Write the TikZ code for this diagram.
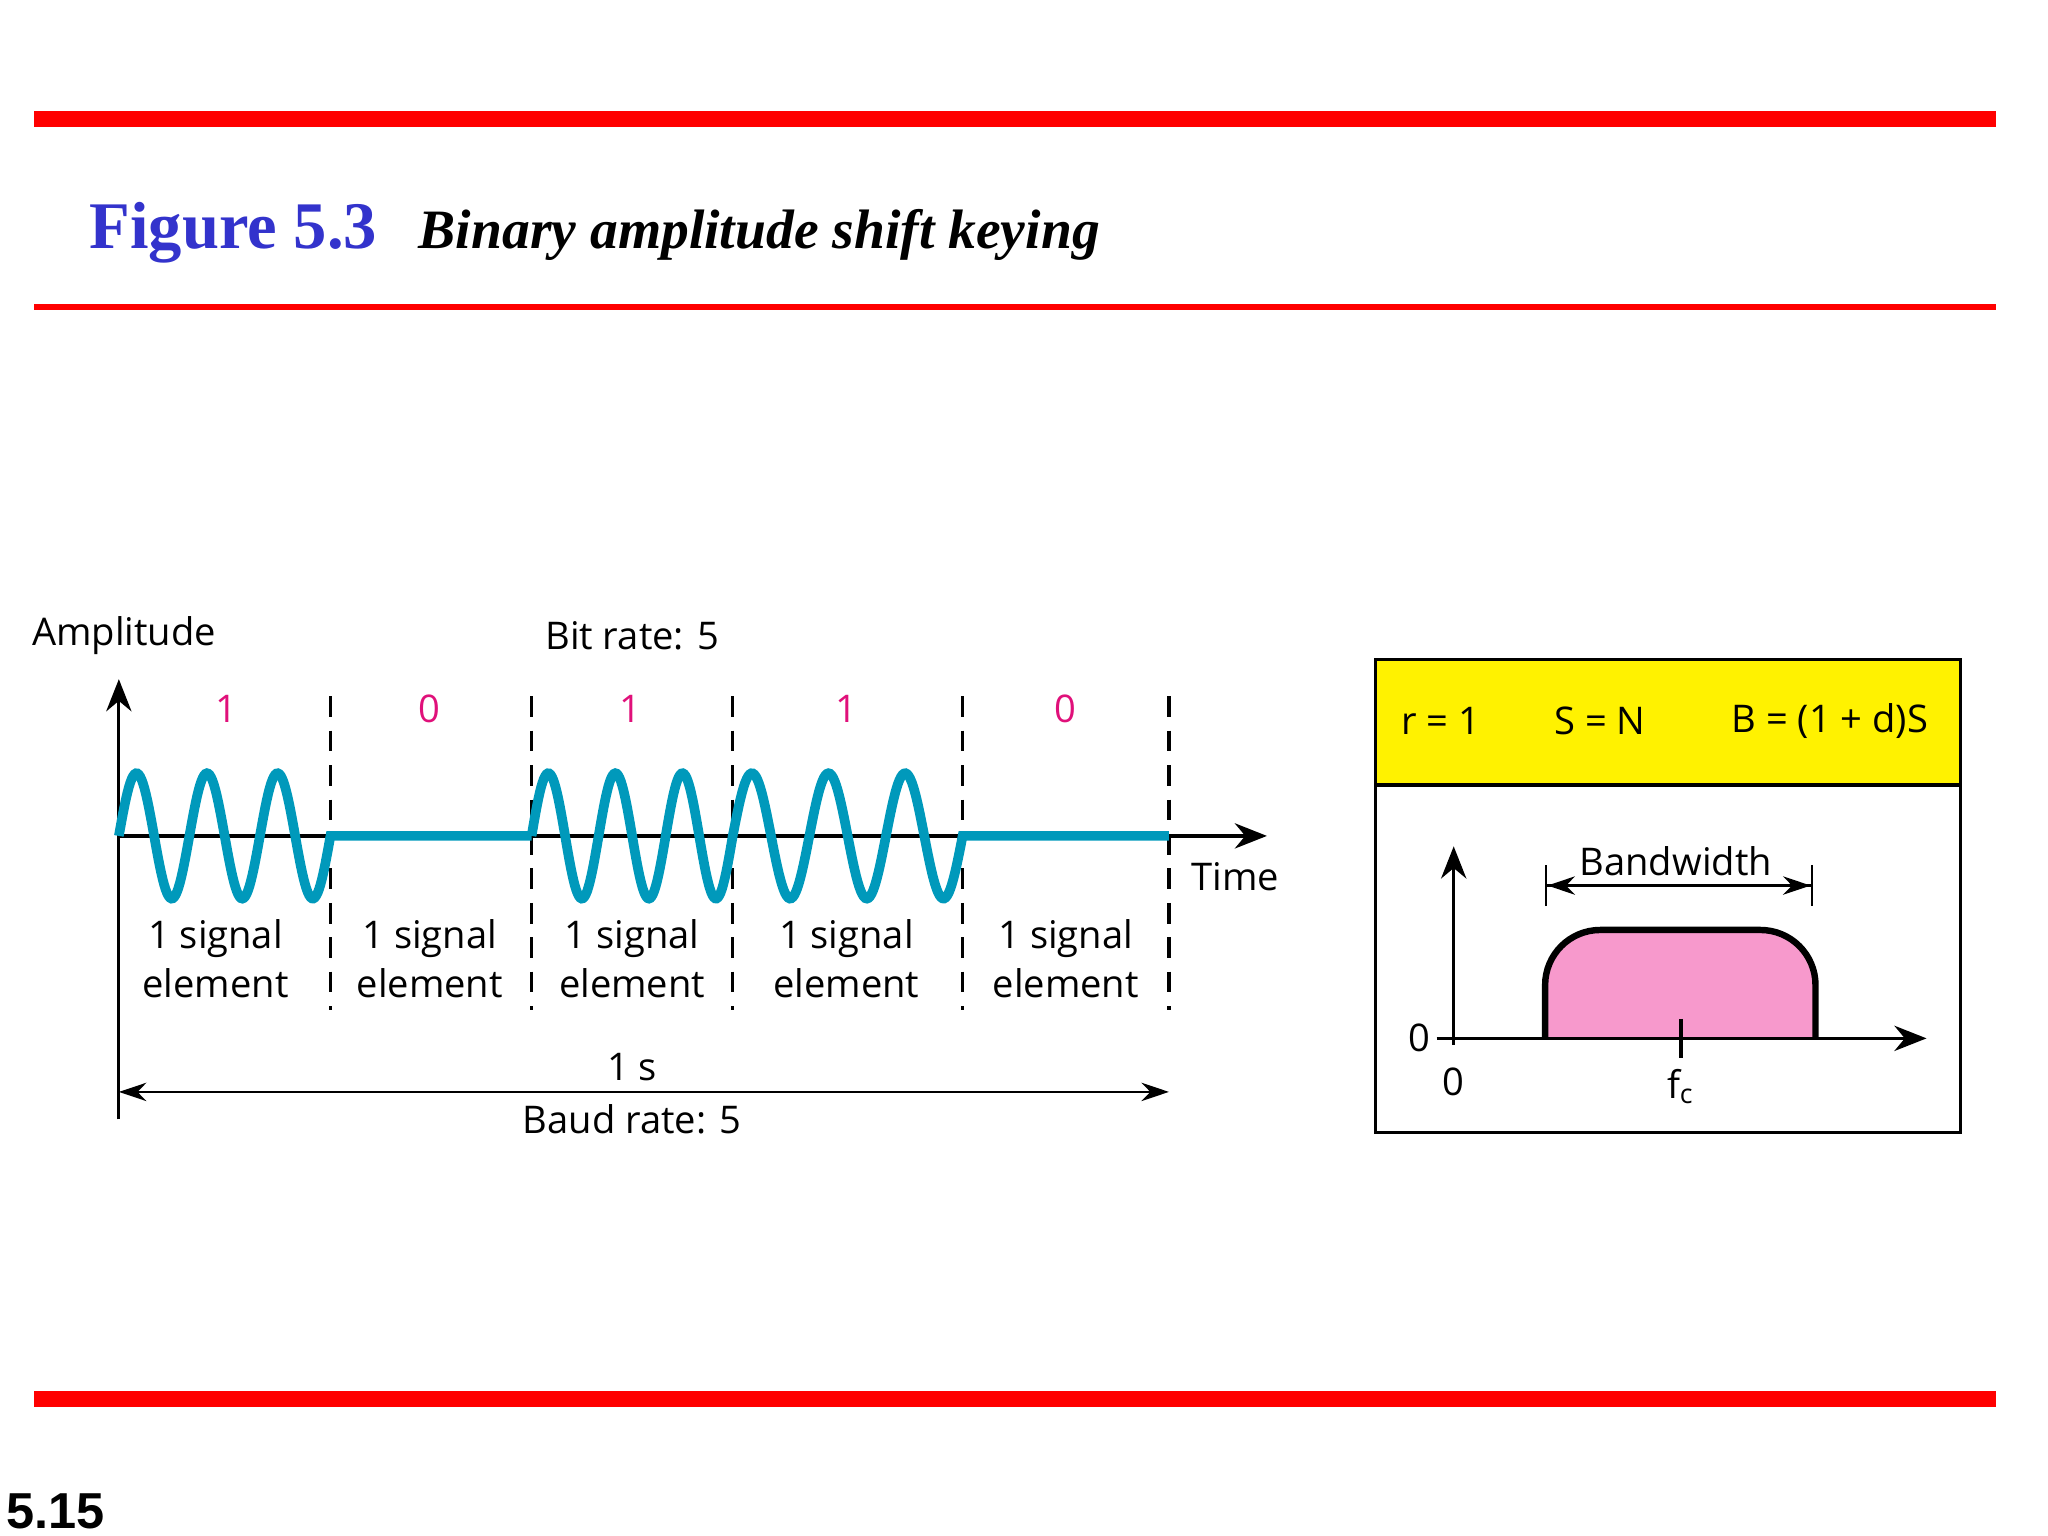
\documentclass[tikz,border=0pt]{standalone}
\usepackage{fontspec}
\setmainfont{Open Sans}
\newfontfamily\tnr{Liberation Serif}
\newfontfamily\arl{Liberation Sans}
\usetikzlibrary{arrows.meta}
\definecolor{wave}{HTML}{0099BB}
\definecolor{bitc}{HTML}{E0107A}
\definecolor{figblue}{HTML}{3333CC}
\definecolor{pinkf}{HTML}{F799CC}
\tikzset{lbl/.style={font=\fontsize{8.3}{9.5}\selectfont, inner sep=0pt, align=center},
 bit/.style={lbl, text=bitc},
 dsh/.style={dash pattern=on 4.5pt off 3pt, line width=0.7pt},
 wv/.style={wave, line width=2.1pt}}
\begin{document}
\begin{tikzpicture}[x=0.01cm,y=-0.01cm]
\useasboundingbox (0,0) rectangle (1568,1176);
\fill[red] (26,85) rectangle (1528,97);
\fill[red] (26,233) rectangle (1528,237);
\fill[red] (26,1065) rectangle (1528,1077);
\node[anchor=base west, inner sep=0, text=figblue, font=\tnr\bfseries\fontsize{14.5}{16}\selectfont] (fig) at (68,190) {Figure 5.3};
\node[anchor=base west, inner sep=0, font=\tnr\bfseries\itshape\fontsize{12.1}{14}\selectfont] (tit) at (320,190) {Binary amplitude shift keying};
\node[anchor=base west, inner sep=0, font=\arl\bfseries\fontsize{11}{13}\selectfont] (pg) at (4,1170) {5.15};
% axes
\node[lbl, anchor=west] (amp) at (24,487) {Amplitude};
\node[lbl] (br) at (484,487) {Bit rate: 5};
\coordinate (o) at (91,640);
\coordinate (yt) at (91,520);
\coordinate (yb) at (91,857);
\coordinate (xt) at (970,640);
\draw[line width=0.7pt,-{Stealth[length=7pt,width=5.5pt]}] (yb) -- (yt);
\draw[line width=0.7pt,-{Stealth[length=7pt,width=5.5pt]}] (o) -- (xt);
\node[lbl] (time) at (946,671) {Time};
\foreach \x/\n in {253/a,407/b,561/c,737/d,895/e}{
 \coordinate (t\n) at (\x,533); \coordinate (b\n) at (\x,773);
 \draw[dsh] (t\n) -- (b\n);}
\foreach \x/\b/\n in {173/1/p,329/0/q,483/1/r,648/1/s,816/0/t}{
 \node[bit] (bit\n) at (\x,543) {\b};}
\foreach \x/\n in {165/p,329/q,484/r,648/s,816/t}{
 \node[lbl] (el\n) at (\x,734) {1 signal\\[1pt]element};}
% wave
\draw[wv] plot[domain=0:162,samples=150] ({91+\x},{640-48*sin(\x*6.6667)}) -- (407,640)
 plot[domain=0:154,samples=150] ({407+\x},{640-48*sin(\x*7.0130)})
 plot[domain=0:176,samples=150] ({561+\x},{640-48*sin(\x*6.1364)}) -- (895,640);
% 1 s
\coordinate (sa) at (91,836); \coordinate (sb) at (895,836);
\draw[line width=0.5pt,{Stealth[length=6pt,width=4pt]}-{Stealth[length=6pt,width=4pt]}] (sa) -- (sb);
\node[lbl] (ones) at (484,817) {1 s};
\node[lbl] (baud) at (484,857) {Baud rate: 5};
% box
\fill[yellow] (1053,505) rectangle (1501,601);
\draw[line width=0.8pt] (1053,505) rectangle (1501,867);
\draw[line width=0.8pt] (1053,601) -- (1501,601);
\node[lbl] (r) at (1103,552) {r = 1};
\node[lbl] (sn) at (1225,552) {S = N};
\node[lbl] (bb) at (1401,552) {B = (1 + d)S};
\fill[pinkf,draw=black,line width=1.4pt,rounded corners=12pt] (1183,795) -- (1183,712) -- (1390,712) -- (1390,795);
\coordinate (vo) at (1113,800); \coordinate (vt) at (1113,648);
\coordinate (ho) at (1100,795); \coordinate (ht) at (1475,795);
\draw[line width=0.7pt,-{Stealth[length=7pt,width=5.5pt]}] (vo) -- (vt);
\draw[line width=0.7pt,-{Stealth[length=7pt,width=5.5pt]}] (ho) -- (ht);
\draw[line width=0.7pt] (1287,780) -- (1287,810);
\node[lbl] (z1) at (1087,795) {0};
\node[lbl] (z2) at (1113,828) {0};
\node[lbl] (fc) at (1287,832) {f$_{\mathrm c}$};
\coordinate (bwa) at (1183,678); \coordinate (bwb) at (1388,678);
\draw[line width=0.5pt,{Bar[width=9pt]Stealth[length=6pt,width=4pt]}-{Stealth[length=6pt,width=4pt]Bar[width=9pt]}] (bwa) -- (bwb);
\node[lbl] (bw) at (1283,659) {Bandwidth};
\end{tikzpicture}
\end{document}
